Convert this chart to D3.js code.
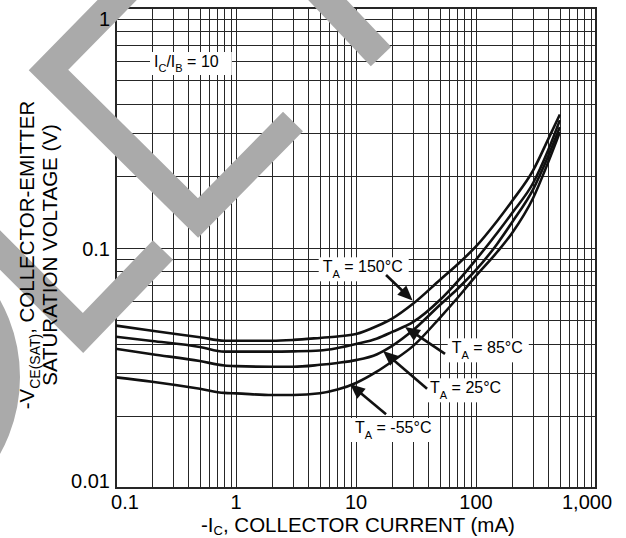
<!DOCTYPE html>
<html><head><meta charset="utf-8">
<script src="https://cdn.jsdelivr.net/npm/d3@7"></script>
<style>
body{margin:0;background:#fff}
svg{display:block}
text{font-family:"Liberation Sans",Arial,Helvetica,sans-serif;fill:#000}
</style>
</head><body>
<svg id="c" width="626" height="538"></svg>
<script>
// ---------- data ----------
const currents = [0.1,0.2,0.5,0.8,1,2,3,5,7,10,15,20,30,50,70,100,150,200,300,400,500];
const temps = ["150°C","85°C","25°C","-55°C"];
const v150 = [0.0475,0.0452,0.0425,0.0411,0.0411,0.0411,0.0414,0.0422,0.0428,0.0438,0.0473,0.0508,0.0587,0.0736,0.0854,0.1015,0.1296,0.157,0.211,0.2843,0.360];
const v85  = [0.0427,0.0410,0.0387,0.0370,0.0370,0.0370,0.0371,0.0374,0.0383,0.0398,0.0420,0.0447,0.0492,0.0607,0.0725,0.0895,0.1155,0.140,0.187,0.256,0.341];
const v25  = [0.0380,0.0361,0.0338,0.0324,0.0322,0.0320,0.0320,0.0326,0.0332,0.0341,0.0361,0.0391,0.0455,0.0579,0.0675,0.0810,0.1040,0.1280,0.176,0.2416,0.319];
const vm55 = [0.0289,0.0277,0.0259,0.0249,0.0248,0.0244,0.0244,0.0248,0.0257,0.0274,0.0306,0.0337,0.0391,0.0512,0.0619,0.0765,0.0962,0.1155,0.162,0.228,0.304];
const series = [v150, v85, v25, vm55];

const xTickValues = [0.1,1,10,100,1000];
const xTickLabels = ["0.1","1","10","100","1,000"];
const yTickValues = [0.01,0.1,1];
const yTickLabels = ["0.01","0.1","1"];

// annotations (data units: mA, V)
const labelAt   = [[5.28,0.0792],[62.7,0.0364],[41.4,0.0248],[9.81,0.01695]];
const arrowTail = [[17.8,0.0772],[55.2,0.0362],[39.1,0.0259],[17.8,0.0203]];
const arrowTip  = [[29.6,0.0604],[25.6,0.0469],[16.8,0.0372],[8.91,0.0271]];
const ratioAt   = [0.2074,0.5677];

// ---------- chart ----------
const svg = d3.select("#c");
svg.append("rect").attr("width",626).attr("height",538).attr("fill","#fff");

const L=116,R=596,T=8,B=488;
const x = d3.scaleLog().domain([0.1,1000]).range([L,R]);
const y = d3.scaleLog().domain([0.01,1]).range([B,T]);

const gridX=[]; [0.1,1,10,100].forEach(d=>{for(let k=1;k<10;k++) gridX.push(+(d*k).toPrecision(3));}); gridX.push(1000);
const gridY=[]; [0.01,0.1].forEach(d=>{for(let k=1;k<10;k++) gridY.push(+(d*k).toPrecision(3));}); gridY.push(1);

const gc="#262626";
const gx = svg.append("g").attr("transform",`translate(0,${B})`)
  .call(d3.axisBottom(x).tickValues(gridX).tickSize(-(B-T)).tickFormat(""));
gx.select(".domain").remove();
gx.selectAll("line").attr("stroke",gc).attr("stroke-width",1).attr("shape-rendering","crispEdges");
const gy = svg.append("g").attr("transform",`translate(${L},0)`)
  .call(d3.axisLeft(y).tickValues(gridY).tickSize(-(R-L)).tickFormat(""));
gy.select(".domain").remove();
gy.selectAll("line").attr("stroke",gc).attr("stroke-width",1).attr("shape-rendering","crispEdges");
svg.append("rect").attr("x",L).attr("y",T).attr("width",R-L).attr("height",B-T)
  .attr("fill","none").attr("stroke",gc).attr("stroke-width",1.3).attr("shape-rendering","crispEdges");

// watermark (decorative)
const wm = svg.append("g").attr("fill","none").attr("stroke","#aaaaaa").attr("stroke-width",28)
  .attr("stroke-linejoin","miter").attr("stroke-miterlimit",10);
[[[127,-10],[48.5,70],[198,218],[293,121.5]],[[318,-10],[381,56.5]],[[-10,240],[83,333],[163,250]]]
  .forEach(p=>wm.append("polyline").attr("points",p.map(q=>q.join(",")).join(" ")));
wm.append("circle").attr("cx",-138).attr("cy",377).attr("r",144);

// curves
const line = d3.line().x(d=>x(d[0])).y(d=>y(d[1])).curve(d3.curveMonotoneX);
series.forEach(s=>{
  svg.append("path").datum(currents.map((c,i)=>[c,s[i]])).attr("d",line)
    .attr("fill","none").attr("stroke","#111").attr("stroke-width",2.6).attr("stroke-linejoin","round");
});

// labels with white boxes
function boxed(g, padL, padR){
  const bb = g.select("text").node().getBBox();
  g.insert("rect","text").attr("x",bb.x-padL).attr("y",bb.y-1).attr("width",bb.width+padL+padR).attr("height",bb.height+2).attr("fill","#fff");
}
temps.forEach((t,i)=>{
  const g = svg.append("g");
  const tx = g.append("text").attr("x",x(labelAt[i][0])).attr("y",y(labelAt[i][1])).attr("font-size",16);
  tx.append("tspan").text("T");
  tx.append("tspan").attr("font-size",11).attr("dy",6).text("A");
  tx.append("tspan").attr("dy",-6).text(" = "+t);
  boxed(g,4,6);
});
{
  const g = svg.append("g");
  const tx = g.append("text").attr("x",x(ratioAt[0])).attr("y",y(ratioAt[1])).attr("font-size",16);
  tx.append("tspan").text("I");
  tx.append("tspan").attr("font-size",11).attr("dy",5).text("C");
  tx.append("tspan").attr("dy",-5).text("/I");
  tx.append("tspan").attr("font-size",11).attr("dy",5).text("B");
  tx.append("tspan").attr("dy",-5).text(" = 10");
  boxed(g,4,13);
}

// arrows
arrowTail.forEach((a,i)=>{
  const p0=[x(a[0]),y(a[1])], p1=[x(arrowTip[i][0]),y(arrowTip[i][1])];
  const dx=p1[0]-p0[0], dy=p1[1]-p0[1], len=Math.hypot(dx,dy), ux=dx/len, uy=dy/len;
  const hl=15, hw=6.5, bx=p1[0]-ux*hl, by=p1[1]-uy*hl;
  svg.append("line").attr("x1",p0[0]).attr("y1",p0[1]).attr("x2",bx+ux*2).attr("y2",by+uy*2)
    .attr("stroke","#111").attr("stroke-width",2.6);
  svg.append("path").attr("d",`M${p1[0]},${p1[1]}L${bx-uy*hw},${by+ux*hw}L${bx+uy*hw},${by-ux*hw}Z`).attr("fill","#111");
});

// tick labels
xTickValues.forEach((v,i)=>{
  svg.append("text").attr("x",Math.max(L+9,Math.min(R-9,x(v)))).attr("y",509)
    .attr("text-anchor","middle").attr("font-size",20).text(xTickLabels[i]);
});
yTickValues.forEach((v,i)=>{
  svg.append("text").attr("x",110).attr("y",Math.max(T+18,Math.min(B,y(v)+7.5)))
    .attr("text-anchor","end").attr("font-size",20).text(yTickLabels[i]);
});

// axis titles
{
  const t = svg.append("text").attr("x",358).attr("y",532).attr("text-anchor","middle").attr("font-size",20.5);
  t.append("tspan").text("-I");
  t.append("tspan").attr("font-size",13).attr("dy",3).text("C");
  t.append("tspan").attr("dy",-3).text(", COLLECTOR CURRENT (mA)");
}
{
  const g = svg.append("g").attr("transform","translate(34,255) rotate(-90)");
  const t1 = g.append("text").attr("x",0).attr("y",0).attr("text-anchor","middle").attr("font-size",20.5);
  t1.append("tspan").text("-V");
  t1.append("tspan").attr("font-size",14).attr("dy",6).text("CE(SAT)");
  t1.append("tspan").attr("dy",-6).text(", COLLECTOR-EMITTER");
  g.append("text").attr("x",0).attr("y",23).attr("text-anchor","middle").attr("font-size",20.5)
    .text("SATURATION VOLTAGE (V)");
}
</script>
</body></html>
